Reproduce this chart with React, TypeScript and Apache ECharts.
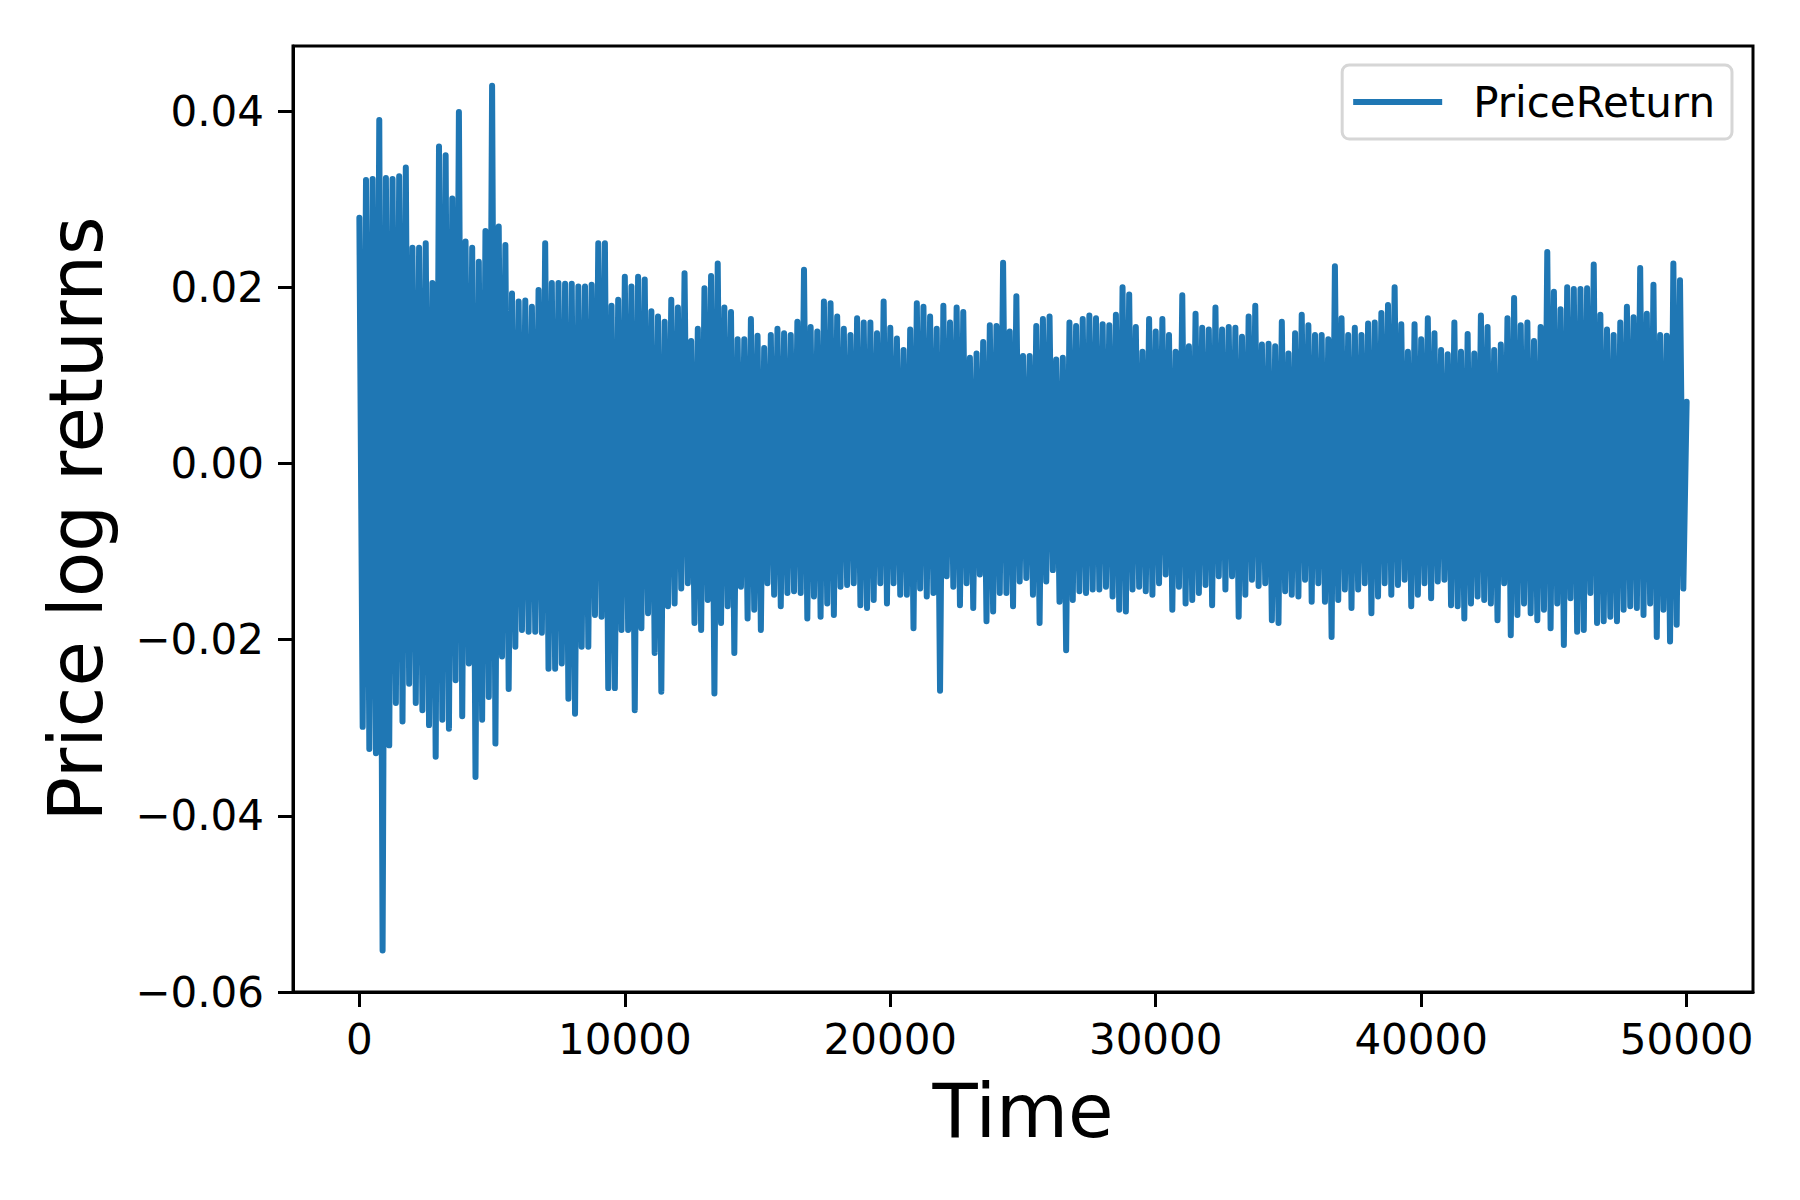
import React, { useEffect, useRef } from "react";
import * as echarts from "echarts";

// Bin width (time units) for the envelope samples
const timeStep = 250;

// Upper envelope: highest value in each bin, bins start at t = 0, 250, ..., 49750
const upperPeaks = [
  0.0279, 0.0322, 0.0323, 0.0390, 0.0324, 0.0323, 0.0326, 0.0336, 0.0245, 0.0245,
  0.0250, 0.0205, 0.0360, 0.0350, 0.0301, 0.0399, 0.0252, 0.0245, 0.0229, 0.0264,
  0.0429, 0.0269, 0.0248, 0.0193, 0.0184, 0.0185, 0.0178, 0.0197, 0.0250, 0.0205,
  0.0205, 0.0204, 0.0204, 0.0201, 0.0201, 0.0203, 0.0250,
  0.0250, 0.0179, 0.0186, 0.0212, 0.0201, 0.0212, 0.0209, 0.0173, 0.0167, 0.0161,
  0.0186, 0.0177, 0.0216, 0.0139, 0.0153, 0.0199, 0.0213, 0.0227, 0.0177, 0.0172,
  0.0141, 0.0141, 0.0164, 0.0145, 0.0131, 0.0146, 0.0153, 0.0148, 0.0146, 0.0161,
  0.0220, 0.0155, 0.0150, 0.0184, 0.0182, 0.0167, 0.0153, 0.0146, 0.0165,
  0.0160, 0.0160, 0.0148, 0.0184, 0.0154, 0.0142, 0.0129, 0.0152, 0.0182, 0.0178,
  0.0167, 0.0153, 0.0179, 0.0160, 0.0177, 0.0172, 0.0120, 0.0125, 0.0138, 0.0157,
  0.0156, 0.0228, 0.0150, 0.0190, 0.0122, 0.0122, 0.0156, 0.0164, 0.0167, 0.0118,
  0.0120, 0.0160, 0.0156, 0.0164, 0.0168, 0.0165, 0.0158, 0.0157, 0.0169,
  0.0200, 0.0192, 0.0155, 0.0127, 0.0164, 0.0150, 0.0164, 0.0146, 0.0127, 0.0191,
  0.0133, 0.0170, 0.0154, 0.0152, 0.0177, 0.0152, 0.0155, 0.0154, 0.0144, 0.0167,
  0.0179, 0.0135, 0.0136, 0.0133, 0.0161, 0.0125, 0.0148, 0.0169, 0.0157, 0.0146,
  0.0146, 0.0141, 0.0224, 0.0165, 0.0146, 0.0154, 0.0146, 0.0159, 0.0160, 0.0171,
  0.0180, 0.0200, 0.0158, 0.0127, 0.0158, 0.0141, 0.0165, 0.0148, 0.0129, 0.0124,
  0.0160, 0.0127, 0.0147, 0.0125, 0.0168, 0.0155, 0.0129, 0.0135, 0.0165, 0.0188,
  0.0157, 0.0160, 0.0139, 0.0155, 0.0240, 0.0195, 0.0175, 0.0200, 0.0198, 0.0198,
  0.0199, 0.0226, 0.0169, 0.0152, 0.0146, 0.0160, 0.0178, 0.0166, 0.0222, 0.0170,
  0.0203, 0.0146, 0.0145, 0.0227, 0.0208,
];

// Lower envelope: lowest value in each bin (placed at the bin's midpoint)
const lowerTroughs = [
  -0.0299, -0.0324, -0.0329, -0.0553, -0.0320, -0.0272, -0.0293, -0.0250, -0.0272, -0.0280,
  -0.0297, -0.0333, -0.0291, -0.0301, -0.0246, -0.0287, -0.0227, -0.0356, -0.0291, -0.0265,
  -0.0318, -0.0219, -0.0256, -0.0208, -0.0189, -0.0191, -0.0191, -0.0192, -0.0233, -0.0233,
  -0.0227, -0.0267, -0.0284, -0.0208, -0.0208, -0.0172, -0.0174,
  -0.0255, -0.0255, -0.0189, -0.0189, -0.0280, -0.0187, -0.0170, -0.0215, -0.0259, -0.0162,
  -0.0159, -0.0142, -0.0136, -0.0181, -0.0189, -0.0155, -0.0261, -0.0181, -0.0162, -0.0215,
  -0.0140, -0.0176, -0.0166, -0.0189, -0.0136, -0.0149, -0.0162, -0.0147, -0.0145, -0.0147,
  -0.0176, -0.0151, -0.0174, -0.0159, -0.0172, -0.0140, -0.0138, -0.0136, -0.0161,
  -0.0164, -0.0155, -0.0136, -0.0159, -0.0136, -0.0149, -0.0149, -0.0187, -0.0142, -0.0151,
  -0.0147, -0.0258, -0.0128, -0.0140, -0.0161, -0.0136, -0.0164, -0.0126, -0.0179, -0.0168,
  -0.0147, -0.0147, -0.0162, -0.0134, -0.0130, -0.0149, -0.0181, -0.0134, -0.0121, -0.0157,
  -0.0212, -0.0155, -0.0145, -0.0147, -0.0143, -0.0143, -0.0140, -0.0151, -0.0166,
  -0.0168, -0.0143, -0.0140, -0.0145, -0.0149, -0.0136, -0.0126, -0.0166, -0.0140, -0.0159,
  -0.0155, -0.0147, -0.0138, -0.0161, -0.0128, -0.0143, -0.0128, -0.0174, -0.0149, -0.0132,
  -0.0139, -0.0136, -0.0178, -0.0181, -0.0145, -0.0149, -0.0151, -0.0132, -0.0157, -0.0136,
  -0.0157, -0.0197, -0.0155, -0.0143, -0.0164, -0.0143, -0.0136, -0.0170, -0.0151, -0.0136,
  -0.0149, -0.0138, -0.0132, -0.0162, -0.0149, -0.0136, -0.0153, -0.0134, -0.0132, -0.0161,
  -0.0162, -0.0176, -0.0159, -0.0151, -0.0155, -0.0159, -0.0178, -0.0136, -0.0195, -0.0172,
  -0.0159, -0.0170, -0.0178, -0.0166, -0.0187, -0.0159, -0.0206, -0.0153, -0.0191, -0.0189,
  -0.0147, -0.0181, -0.0179, -0.0174, -0.0179, -0.0166, -0.0162, -0.0164, -0.0172, -0.0159,
  -0.0197, -0.0166, -0.0202, -0.0183, -0.0142,
];

const lastTime = 50000;
const lastValue = 0.007;

const xTicks = [0, 10000, 20000, 30000, 40000, 50000];
const yTicks = [-0.06, -0.04, -0.02, 0, 0.02, 0.04];

const seriesName = "PriceReturn";
const xName = "Time";
const yName = "Price log returns";

export default function App() {
  const ref = useRef<HTMLDivElement>(null);
  useEffect(() => {
    const chart = echarts.init(ref.current!, null, { renderer: "svg" });
    const data: number[][] = [];
    upperPeaks.forEach((v, i) => {
      data.push([i * timeStep, v]);
      data.push([i * timeStep + timeStep / 2, lowerTroughs[i]]);
    });
    data.push([lastTime, lastValue]);
    const font = "DejaVu Sans";
    chart.setOption({
      animation: false,
      backgroundColor: "#ffffff",
      textStyle: { fontFamily: font },
      grid: {
        left: 293,
        top: 46,
        width: 1460,
        height: 946,
        show: true,
        borderColor: "#000",
        borderWidth: 3,
        backgroundColor: "transparent",
        containLabel: false,
      },
      legend: {
        show: true,
        right: 68,
        top: 65,
        icon: "rect",
        itemWidth: 89,
        itemHeight: 6,
        padding: [16, 17, 16, 11],
        borderColor: "#d6d6d6",
        borderWidth: 3,
        borderRadius: 7,
        backgroundColor: "rgba(255,255,255,0.8)",
        textStyle: { fontSize: 42, color: "#000", fontFamily: font, padding: [0, 0, 0, 26] },
        data: [seriesName],
      },
      xAxis: {
        type: "value",
        min: -2500,
        max: 52500,
        name: xName,
        nameLocation: "middle",
        nameGap: 82,
        nameTextStyle: { fontSize: 74, color: "#000", fontFamily: font },
        axisLine: { show: true, onZero: false, lineStyle: { color: "#000", width: 3 } },
        splitLine: { show: false },
        axisTick: { show: true, inside: false, length: 15, customValues: xTicks, lineStyle: { color: "#000", width: 3 } },
        axisLabel: {
          customValues: xTicks,
          margin: 26,
          fontSize: 42,
          color: "#000",
          fontFamily: font,
          formatter: (v: number) => String(v),
        },
      },
      yAxis: {
        type: "value",
        min: -0.06,
        max: 0.0474,
        name: yName,
        nameLocation: "middle",
        nameGap: 180,
        nameRotate: 90,
        nameTextStyle: { fontSize: 74, color: "#000", fontFamily: font },
        axisLine: { show: true, onZero: false, lineStyle: { color: "#000", width: 3 } },
        splitLine: { show: false },
        axisTick: { show: true, inside: false, length: 15, customValues: yTicks, lineStyle: { color: "#000", width: 3 } },
        axisLabel: {
          customValues: yTicks,
          margin: 29,
          fontSize: 42,
          color: "#000",
          fontFamily: font,
          formatter: (v: number) => (v < 0 ? "\u2212" : "") + Math.abs(v).toFixed(2),
        },
      },
      series: [
        {
          type: "line",
          name: seriesName,
          data,
          showSymbol: false,
          symbol: "none",
          itemStyle: { color: "#1f77b4" },
          lineStyle: { color: "#1f77b4", width: 6, join: "round", cap: "round" },
        },
      ],
    });
    return () => chart.dispose();
  }, []);
  return (
    <div
      ref={ref}
      style={{ position: "fixed", left: 0, top: 0, width: 1800, height: 1200 }}
    />
  );
}
